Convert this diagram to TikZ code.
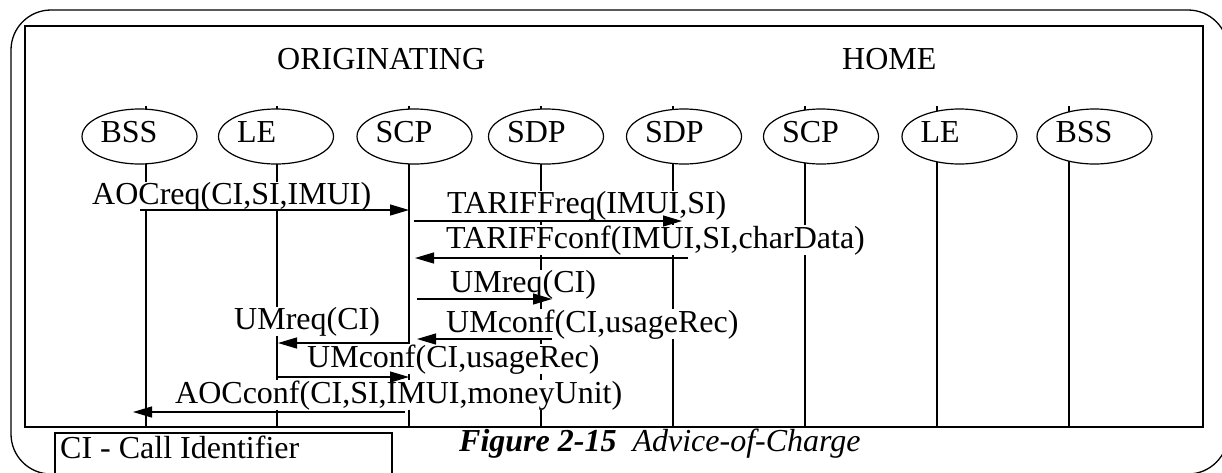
\documentclass[tikz,border=0pt]{standalone}
\usepackage{fontspec}
\setmainfont{Liberation Serif}
\usetikzlibrary{arrows.meta,shapes.geometric}
\begin{document}
\begin{tikzpicture}[x=1pt,y=-1pt,
  txt/.style={font=\fontsize{32}{38}\selectfont, inner sep=0pt, anchor=base west},
  lbl/.style={txt, fill=white},
  ent/.style={draw, ellipse, fill=white, line width=1.2pt, minimum width=115pt,
    minimum height=55pt, inner sep=0pt, font=\fontsize{32}{38}\selectfont,
    text height=21pt, text depth=10pt},
  life/.style={line width=1.2pt},
  msg/.style={line width=1.2pt, -{Triangle[length=19pt,width=11pt]}},
  frame/.style={line width=1.8pt},
]
\useasboundingbox (0,0) rectangle (1222,472);
% outer rounded frame
\draw[line width=1.3pt, rounded corners=40pt] (11,10) rectangle (1228,474);
% inner frame
\draw[frame] (25,26) rectangle (1203,427);
% titles
\node[txt] (orig) at (277,69) {ORIGINATING};
\node[txt] (home) at (842,69) {HOME};
% lifelines
\foreach \n/\x in {1/146,2/277,3/409,4/541,5/673,6/805,7/937,8/1069}{
  \coordinate (t\n) at (\x,106);
  \coordinate (b\n) at (\x,427);
  \draw[life] (t\n) -- (b\n);
}
% entities
\node[ent] (bss1) at (139.5,136.5) {\makebox[78pt][l]{BSS}};
\node[ent] (le1)  at (276,136.5)   {\makebox[78pt][l]{LE}};
\node[ent] (scp1) at (414.5,136.5) {\makebox[78pt][l]{SCP}};
\node[ent] (sdp1) at (546,136.5)   {\makebox[78pt][l]{SDP}};
\node[ent] (sdp2) at (684,136.5)   {\makebox[78pt][l]{SDP}};
\node[ent] (scp2) at (821,136.5)   {\makebox[78pt][l]{SCP}};
\node[ent] (le2)  at (959.5,136.5) {\makebox[78pt][l]{LE}};
\node[ent] (bss2) at (1094.5,136.5){\makebox[78pt][l]{BSS}};
% message labels
\node[lbl] (m1) at (92,204)  {AOCreq(CI,SI,IMUI)};
\node[lbl] (m2) at (447,213) {TARIFFreq(IMUI,SI)};
\node[lbl] (m3) at (446,248) {TARIFFconf(IMUI,SI,charData)};
\node[lbl] (m4) at (450,292) {UMreq(CI)};
\node[lbl] (m5) at (446,332) {UMconf(CI,usageRec)};
\node[lbl] (m6) at (234,329) {UMreq(CI)};
\node[lbl] (m7) at (307,367) {UMconf(CI,usageRec)};
\node[lbl] (m8) at (175,403) {AOCconf(CI,SI,IMUI,moneyUnit)};
% message arrows
\coordinate (a1s) at (140,210); \coordinate (a1e) at (409,210);
\coordinate (a2s) at (414,221); \coordinate (a2e) at (682,221);
\coordinate (a3s) at (688,258); \coordinate (a3e) at (415,258);
\coordinate (a4s) at (417,299); \coordinate (a4e) at (552,299);
\coordinate (a5s) at (552,339); \coordinate (a5e) at (417,339);
\coordinate (a6s) at (409,343); \coordinate (a6e) at (278,343);
\coordinate (a7s) at (277,377); \coordinate (a7e) at (409,377);
\coordinate (a8s) at (405,412); \coordinate (a8e) at (133,412);
\foreach \i in {1,...,8}{ \draw[msg] (a\i s) -- (a\i e); }
% legend box and caption
\draw[frame] (55,433) rectangle (392,482);
\node[txt] (legend) at (60,458) {CI - Call Identifier};
\node[txt] (caption) at (459,451) {\textbf{\textit{Figure 2-15}}\hspace{16pt}\textit{Advice-of-Charge}};
\end{tikzpicture}
\end{document}
